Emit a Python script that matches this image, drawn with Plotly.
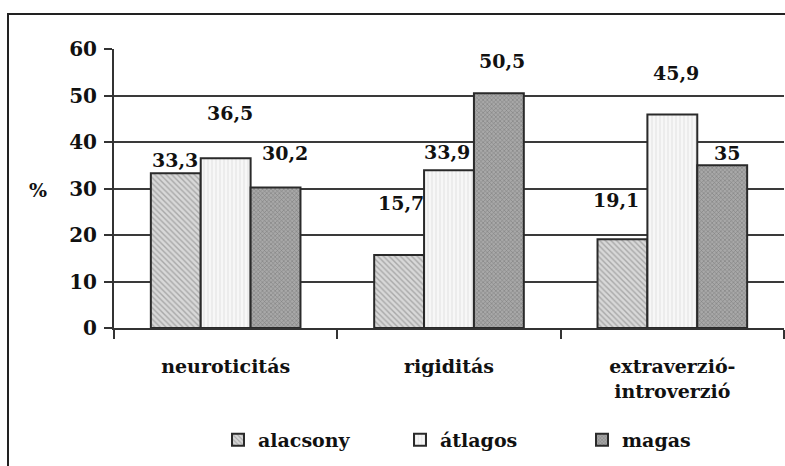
import plotly.graph_objects as go

categories = ["neuroticitás", "rigiditás", "extraverzió-<br>introverzió"]
series_names = ["alacsony", "átlagos", "magas"]
alacsony = [33.3, 15.7, 19.1]
atlagos = [36.5, 33.9, 45.9]
magas = [30.2, 50.5, 35.0]
values = [alacsony, atlagos, magas]

# styling
FONT = "DejaVu Serif"
patterns = [
    dict(shape="\\", fgcolor="#777777", bgcolor="#d8d8d8", size=4, solidity=0.35),
    dict(shape="|", fgcolor="#cccccc", bgcolor="#f7f7f7", size=4, solidity=0.25),
    dict(shape="x", fgcolor="#555555", bgcolor="#a8a8a8", size=3, solidity=0.35),
]
# label offsets (px) relative to bar top / bar center, per series then category
label_dy = [[13, 52, 39], [45, 18, 42], [35, 32, 12]]
label_dx = [[-1, 2, -6], [4, -2, 4], [9, 3, 5]]
series_dx = [-50, 0, 50]

def fmt(v):
    return ("%g" % v).replace(".", ",")

fig = go.Figure()
for j, name in enumerate(series_names):
    fig.add_trace(go.Bar(
        x=categories, y=values[j], name=name,
        marker=dict(color=patterns[j]["bgcolor"], pattern=patterns[j],
                    line=dict(color="#2a2a2a", width=2)),
    ))

LBL = dict(family=FONT, size=19, color="#111111", weight="bold")
annotations = []
for j in range(3):
    for i, c in enumerate(categories):
        annotations.append(dict(
            x=c, y=values[j][i], xref="x", yref="y", text=fmt(values[j][i]),
            showarrow=False, yanchor="middle", xanchor="center",
            xshift=series_dx[j] + label_dx[j][i], yshift=label_dy[j][i],
            font=LBL,
        ))

W, H = 785, 466
ml, mr, mt, mb = 114, 1, 49, 138
pw, ph = W - ml - mr, H - mt - mb

def px_to_paper_x(px):
    return (px - ml) / pw

def px_to_paper_y(py):
    return (H - mb - py) / ph

annotations.append(dict(
    x=px_to_paper_x(38), y=px_to_paper_y(190), xref="paper", yref="paper",
    text="%", showarrow=False, xanchor="center", yanchor="middle", font=LBL,
))

fig.update_layout(
    width=W, height=H, autosize=False,
    margin=dict(l=ml, r=mr, t=mt, b=mb, pad=0, autoexpand=False),
    paper_bgcolor="white", plot_bgcolor="white",
    barmode="group", bargap=0.33, bargroupgap=0,
    font=LBL,
    showlegend=True,
    legend=dict(orientation="h", x=px_to_paper_x(218), xanchor="left",
                y=px_to_paper_y(421), yanchor="top",
                entrywidth=137, entrywidthmode="pixels",
                font=LBL, itemwidth=30, traceorder="normal",
                bgcolor="rgba(0,0,0,0)"),
    annotations=annotations,
    shapes=[dict(type="rect", xref="paper", yref="paper",
                 x0=px_to_paper_x(8), x1=px_to_paper_x(790),
                 y0=px_to_paper_y(475), y1=px_to_paper_y(14),
                 line=dict(color="#222222", width=2), layer="below")],
    xaxis=dict(showline=True, linecolor="#333333", linewidth=2,
               ticks="outside", tickson="boundaries", ticklen=9, tickwidth=2,
               tickcolor="#333333", showgrid=False, ticklabelstandoff=20,
               tickfont=LBL),
    yaxis=dict(range=[0, 60], dtick=10, showline=True, linecolor="#333333",
               linewidth=2, ticks="outside", ticklen=8, tickwidth=2,
               tickcolor="#333333", showgrid=True, gridcolor="#3a3a3a",
               gridwidth=2, zeroline=False, ticklabelstandoff=3,
               tickfont=dict(family=FONT, size=20, color="#111111", weight="bold")),
)

fig.write_html(
    "out.html",
    config={"responsive": False, "displayModeBar": False},
    default_width="785px", default_height="466px",
    post_script="document.body.style.margin='0';document.body.style.overflow='hidden';",
)
